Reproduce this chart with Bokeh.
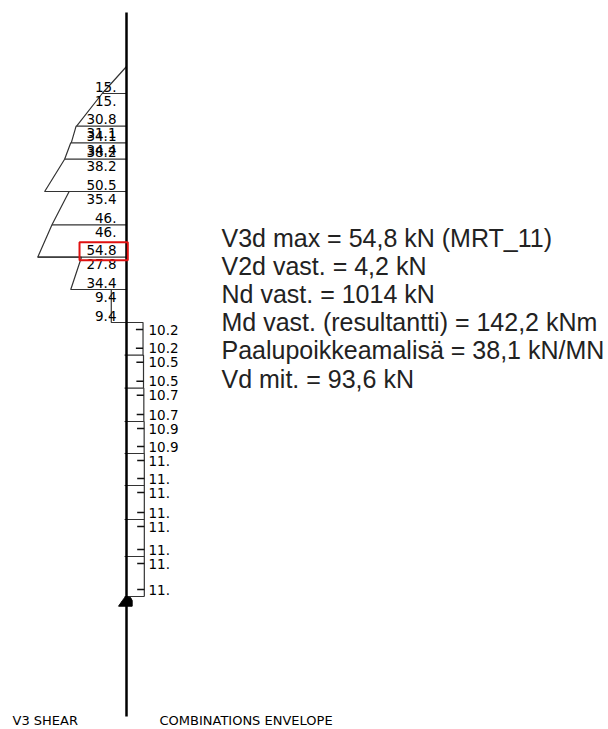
from bokeh.plotting import figure
from bokeh.models import Range1d
from bokeh.core.properties import value
from bokeh.embed import file_html
from bokeh.resources import INLINE

# Spans along the pile (station boundaries) and shear value at each span end
stations = [66, 93, 125.7, 142.3, 158.7, 191, 224.3, 256.7, 289, 322,
            354.7, 387.7, 421, 453, 485, 519, 556, 596]
v_start = [0, 15, 31.1, 34.4, 38.2, 35.4, 46, 27.8, 9.4,
           -10.2, -10.5, -10.7, -10.9, -11, -11, -11, -11]
v_end = [15, 30.8, 34.1, 38.2, 50.5, 46, 54.8, 34.4, 9.4,
         -10.2, -10.5, -10.7, -10.9, -11, -11, -11, -11]
lab_start = ["", "15.", "31.1", "34.4", "38.2", "35.4", "46.", "27.8", "9.4",
             "10.2", "10.5", "10.7", "10.9", "11.", "11.", "11.", "11."]
lab_end = ["15.", "30.8", "34.1", "38.2", "50.5", "46.", "54.8", "34.4", "9.4",
           "10.2", "10.5", "10.7", "10.9", "11.", "11.", "11.", "11."]
notes = ["V3d max = 54,8 kN (MRT_11)", "V2d vast. = 4,2 kN", "Nd vast. = 1014 kN",
         "Md vast. (resultantti) = 142,2 kNm", "Paalupoikkeamalisä = 38,1 kN/MN",
         "Vd mit. = 93,6 kN"]
note_rows = [237, 265, 293, 321, 349, 378]
footer = ["V3 SHEAR", "COMBINATIONS ENVELOPE"]

W, H = 608, 729
PX = 1.62            # px per kN
X0 = 126             # pile position in the frame
p = figure(width=W, height=H, output_backend="svg", toolbar_location=None,
           x_range=Range1d(X0 / PX, (X0 - W) / PX), y_range=Range1d(H, 0),
           min_border=0, outline_line_color=None, background_fill_color="white")
p.axis.visible = False
p.grid.visible = False

GREY = "#333333"
# envelope outline
xs, ys = [], []
for i in range(len(v_start)):
    xs += [v_start[i], v_end[i]]
    ys += [stations[i], stations[i + 1]]
p.line(xs[:18], ys[:18], line_color=GREY, line_width=1.2)
p.line(xs[17:], ys[17:], line_color=GREY, line_width=1.2)

# horizontal closing lines at each span boundary
for i in range(1, len(stations)):
    ve = v_end[i - 1]
    p.segment([ve], [stations[i]], [0 if ve > 0 else 1.2], [stations[i]],
              line_color=GREY, line_width=1.2)

# pile axis
p.segment([0], [12], [0], [716], line_color="black", line_width=2.5)

# support block
p.patch([4.9, -3.5, -3.5, -2.5, 0.6, 2.5], [605.7, 605.7, 600, 597, 596, 600],
        fill_color="black", line_color="black", line_width=1)

# labels and ticks
def lab(v, z, t):
    if not t:
        return
    if v > 0:
        p.text([0], [z], text=[t], x_offset=-10, text_align="right", text_baseline="middle",
               text_font=value("DejaVu Sans"), text_font_size="13.5px", text_color="black")
    else:
        p.text([0], [z], text=[t], x_offset=22, text_align="left", text_baseline="middle",
               text_font=value("DejaVu Sans"), text_font_size="13.5px", text_color="black")
        p.segment([v + 4.4], [z], [v], [z], line_color="#111111", line_width=1.4)

for i in range(len(v_start)):
    lab(v_start[i], stations[i] + 7, lab_start[i])
    lab(v_end[i], stations[i + 1] - 7, lab_end[i])

# highlight box around the maximum value
p.quad(left=[29], right=[-0.8], top=[241.7], bottom=[259.7], fill_color=None,
       line_color="#e01010", line_width=2)

# notes
p.text([(126 - 221) / PX] * len(notes), note_rows, text=notes, text_align="left",
       text_baseline="middle", text_font=value("Liberation Sans"), text_font_size="25px",
       text_color="#222222")

# footer
p.text([(126 - 12) / PX], [720], text=[footer[0]], text_align="left", text_baseline="middle",
       text_font=value("DejaVu Sans"), text_font_size="13px", text_color="black")
p.text([(126 - 159) / PX], [720], text=[footer[1]], text_align="left", text_baseline="middle",
       text_font=value("DejaVu Sans"), text_font_size="13px", text_color="black")

open("out.html", "w").write(file_html(p, INLINE))
